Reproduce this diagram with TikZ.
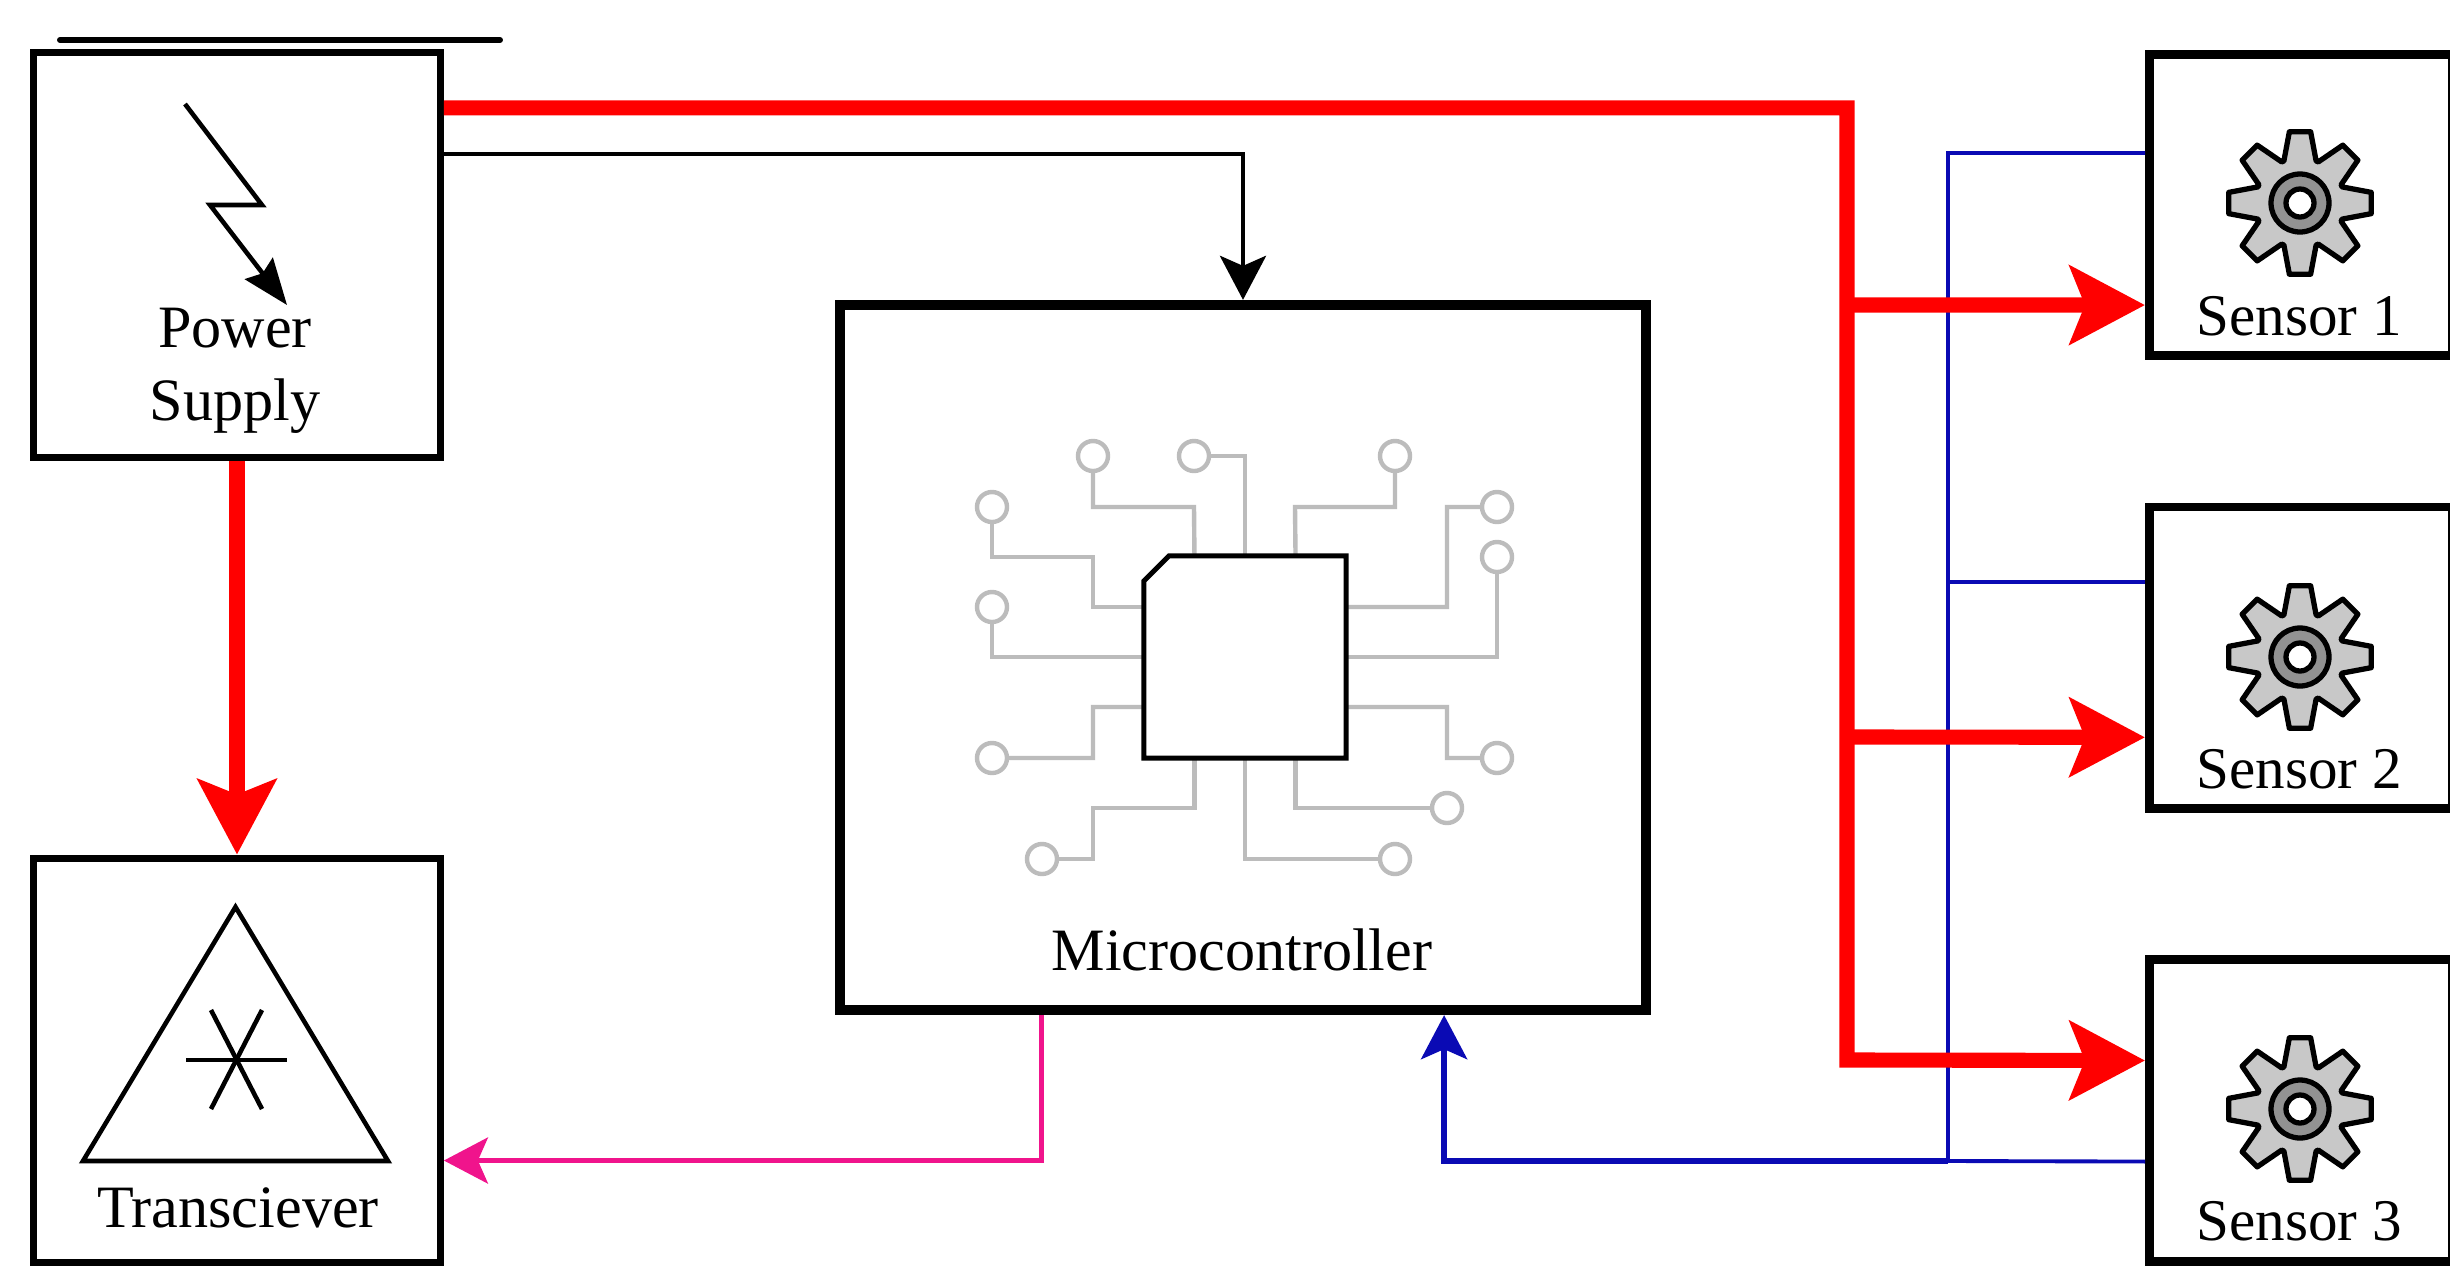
\documentclass[tikz,border=0pt]{standalone}
\usepackage{fontspec}
\setmainfont{Liberation Serif}
\usetikzlibrary{arrows.meta, shapes, positioning}

\definecolor{wirered}{HTML}{FF0000}
\definecolor{wireblue}{HTML}{0A0AB4}
\definecolor{wirepink}{HTML}{F0148C}
\definecolor{tracegrey}{HTML}{BCBCBC}
\definecolor{cogfill}{HTML}{C8C8C8}
\definecolor{hubfill}{HTML}{929292}

\tikzset{
    unit/.style = {draw, rectangle, inner sep=0pt, fill=white},
    sensorbox/.style = {unit, line width=2.5pt, minimum width=3.03cm, minimum height=3.015cm},
    caption/.style = {anchor=base, inner sep=0pt, align=center, font=\fontsize{17.1}{20.5}\selectfont},
    sensorcaption/.style = {caption, font=\fontsize{16.8}{20.5}\selectfont},
    pad/.style = {draw=tracegrey, line width=1.25pt, circle, minimum size=0.3cm, inner sep=0pt},
    trace/.style = {draw=tracegrey, line width=1.25pt},
    redwire/.style = {draw=wirered, line width=4.3pt, -{Stealth[length=0.75cm, width=0.78cm, inset=0.15cm]}},
    thinwire/.style = {line width=1.3pt, -{Stealth[length=0.44cm, width=0.46cm, inset=0.1cm]}},
    icon/.style = {line width=1.3pt},
    cog/.pic = {
        \draw[line width=1.5pt, line join=round, fill=cogfill]
            (-21:45) \foreach \a in {0,45,...,315} { -- (\a-21:45) -- (\a-8.5:72) -- (\a+8.5:72) -- (\a+21:45) } -- cycle;
        \draw[line width=1.5pt, fill=hubfill] (0,0) circle (29);
        \draw[line width=1.5pt, fill=white] (0,0) circle (14);
    }
}

\begin{document}
\begin{tikzpicture}[
            x = 0.01cm,
            y = -0.01cm,
            on grid
        ]
        \useasboundingbox (0,0) rectangle (2450,1266);

        \node[unit, line width=2pt, minimum width=4.065cm, minimum height=4.055cm] (power) at (237,255) {};
        \node[unit, line width=2pt, minimum width=4.065cm, minimum height=4.045cm, below of=power, node distance=8.05cm] (trans) {};
        \node[unit, line width=2.8pt, minimum width=8.05cm, minimum height=7.05cm] (micro) at (1243,657.5) {};
        \node[sensorbox] (sensor1) at (2301,205) {};
        \node[sensorbox, below of=sensor1, node distance=4.525cm] (sensor2) {};
        \node[sensorbox, below of=sensor2, node distance=4.525cm] (sensor3) {};

        \draw[line width=1.7pt, line cap=round] (60,40) -- (500,40);

        % power supply bolt
        \draw[icon, -{Stealth[length=0.46cm, width=0.35cm, inset=0.06cm]}] (185,104) -- (262,205) -- (210,205) -- (287,305);

        % antenna triangle
        \draw[icon] (235.5,907) -- (388,1161) -- (83,1161) -- cycle;
        \draw[icon] (186,1060) -- (287,1060);
        \draw[icon] (211,1010) -- (262,1109);
        \draw[icon] (262,1010) -- (211,1109);

        \pic at (2300,203) {cog};
        \pic at (2300,657) {cog};
        \pic at (2300,1109) {cog};

        % chip and its pads
        \node[rectangle, minimum width=2.02cm, minimum height=2.02cm, inner sep=0pt, outer sep=0pt] (chip) at (1245,657) {};
        \node[pad] (pad1) at (1093,456) {};
        \node[pad] (pad2) at (1194,456) {};
        \node[pad] (pad3) at (1395,456) {};
        \node[pad] (pad4) at (992,507) {};
        \node[pad] (pad5) at (992,607) {};
        \node[pad] (pad6) at (1497,507) {};
        \node[pad] (pad7) at (1497,557) {};
        \node[pad] (pad8) at (992,758) {};
        \node[pad] (pad9) at (1497,758) {};
        \node[pad] (pad10) at (1042,859) {};
        \node[pad] (pad11) at (1447,808) {};
        \node[pad] (pad12) at (1395,859) {};

        \draw[trace] (pad1) |- (1194,507) -- ([xshift=-0.505cm]chip.north);
        \draw[trace] (pad2) -| (chip.north);
        \draw[trace] (pad3) |- (1295,507) -- ([xshift=0.505cm]chip.north);
        \draw[trace] (pad4) |- (1093,557) |- ([yshift=0.5cm]chip.west);
        \draw[trace] (pad5) |- (chip.west);
        \draw[trace] (pad6) -| (1447,607) -- ([yshift=0.5cm]chip.east);
        \draw[trace] (pad7) |- (chip.east);
        \draw[trace] (pad8) -| (1093,707) -- ([yshift=-0.5cm]chip.west);
        \draw[trace] (pad9) -| (1447,707) -- ([yshift=-0.5cm]chip.east);
        \draw[trace] (pad10) -| (1093,808) -| ([xshift=-0.505cm]chip.south);
        \draw[trace] (pad11) -| ([xshift=0.505cm]chip.south);
        \draw[trace] (pad12) -| (chip.south);

        % outline goes over the trace ends
        \draw[line width=1.4pt] (chip.south west) -- (chip.south east) -- (chip.north east)
            -- ([xshift=0.25cm]chip.north west) -- ([yshift=-0.25cm]chip.north west) -- cycle;

        % blue runs under the red ones
        \coordinate (bus) at (1948,1161);
        \draw[draw=wireblue, line width=1.1pt] ([yshift=0.52cm]sensor1.west) -| (bus) -- ([yshift=-0.51cm]sensor3.west);
        \draw[draw=wireblue, line width=1.1pt] ([yshift=0.755cm]sensor2.west) -- ++(-197,0);
        \draw[thinwire, draw=wireblue, line width=1.6pt] (bus) -| ([xshift=2.01cm]micro.south);

        \draw[thinwire, draw=wirepink] ([xshift=-2.015cm]micro.south) |- ([yshift=-1cm]trans.east);
        \draw[thinwire] ([yshift=1.01cm]power.east) -| (micro.north);

        \coordinate (tap1) at (1847,305);
        \coordinate (tap2) at (1847,737);
        \coordinate (tap3) at (1847,1060);
        \draw[redwire] ([yshift=1.47cm]power.east) -| (tap3) -- ([yshift=0.5cm]sensor3.west);
        \path (tap1) edge[redwire] ([yshift=-1cm]sensor1.west);
        \path (tap2) edge[redwire] ([yshift=-0.795cm]sensor2.west);
        \path (power) edge[redwire] (trans);

        \node[caption] (powerlabel) at (235,420) {Power\\Supply};
        \node[caption] (translabel) at (238,1227) {Transciever};
        \node[caption] (microlabel) at (1242,970) {Microcontroller};
        \node[sensorcaption] (sensorlabel1) at (2299,335) {Sensor 1};
        \node[sensorcaption] (sensorlabel2) at (2299,788) {Sensor 2};
        \node[sensorcaption] (sensorlabel3) at (2299,1240) {Sensor 3};
    \end{tikzpicture}
\end{document}
